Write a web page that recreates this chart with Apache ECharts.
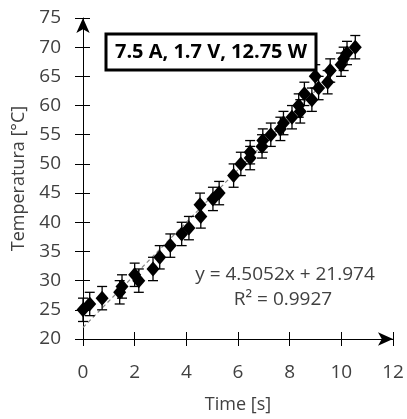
<!DOCTYPE html>
<html>
<head>
<meta charset="utf-8">
<script src="https://cdn.jsdelivr.net/npm/echarts@6/dist/echarts.min.js"></script>
<style>
  html, body { margin: 0; padding: 0; background: #fff; }
  #chart { width: 407px; height: 419px; }
</style>
</head>
<body>
<div id="chart"></div>
<script>
// time [s]
let timeValues = [0, 0.26, 0.74, 1.42, 1.51, 2.0, 2.16, 2.71, 2.97, 3.38, 3.82, 4.1, 4.56, 4.53, 5.03, 5.27, 5.83, 6.11, 6.47, 6.47,
    6.93, 6.96, 7.27, 7.64, 7.76, 8.09, 8.41, 8.35, 8.86, 8.57, 9.12, 9.47, 8.99, 9.57, 9.99, 10.09, 10.22, 10.54];
// temperatura [°C]
let tempValues = [25, 26, 27, 28, 29, 31, 30, 32, 34, 36, 38, 39, 41, 43, 44, 45, 48, 50, 51, 52,
    53, 54, 55, 56, 57, 58, 59, 60, 61, 62, 63, 64, 65, 66, 67, 68, 69, 70];
let errorValue = 2;
// trendline end points
let trendPoints = [[0, 21.97], [10.54, 69.46]];

let fontName = '"Open Sans", sans-serif';
let textColor = '#404040';

let points = timeValues.map(function (t, i) { return [t, tempValues[i]]; });
let errorData = timeValues.map(function (t, i) { return [t, tempValues[i] - errorValue, tempValues[i] + errorValue]; });

let chartDom = document.getElementById('chart');
let myChart = echarts.init(chartDom, null, { renderer: 'canvas' });

let axisLineStyle = { color: '#000', width: 1 };

let option = {
    backgroundColor: '#fff',
    animation: false,
    grid: { left: 83, right: 14, top: 18, bottom: 79, containLabel: false },
    xAxis: [
        {
            type: 'value', min: 0, max: 12, interval: 2,
            splitLine: { show: false },
            axisLine: { show: true, lineStyle: axisLineStyle, symbol: ['none', 'arrow'], symbolSize: [10, 15], onZero: false },
            axisTick: { show: true, length: 7, lineStyle: axisLineStyle },
            axisLabel: { color: textColor, fontSize: 19, fontFamily: fontName, margin: 24 },
            name: 'Time [s]', nameLocation: 'middle', nameGap: 57,
            nameTextStyle: { color: textColor, fontSize: 18, fontFamily: fontName }
        },
        {
            type: 'value', min: 0, max: 12, interval: 2, position: 'bottom',
            splitLine: { show: false },
            axisLine: { show: false, onZero: false },
            axisTick: { show: true, inside: true, length: 7, lineStyle: axisLineStyle },
            axisLabel: { show: false }
        }
    ],
    yAxis: [
        {
            type: 'value', min: 20, max: 75, interval: 5,
            splitLine: { show: false },
            axisLine: { show: true, lineStyle: axisLineStyle, symbol: ['none', 'arrow'], symbolSize: [10, 15], onZero: false },
            axisTick: { show: true, length: 8, lineStyle: axisLineStyle },
            axisLabel: { color: textColor, fontSize: 19, fontFamily: fontName, margin: 22 },
            name: 'Temperatura [°C]', nameLocation: 'middle', nameGap: 55,
            nameTextStyle: { color: textColor, fontSize: 18, fontFamily: fontName }
        },
        {
            type: 'value', min: 20, max: 75, interval: 5, position: 'left',
            splitLine: { show: false },
            axisLine: { show: false, onZero: false },
            axisTick: { show: true, inside: true, length: 7, lineStyle: axisLineStyle },
            axisLabel: { show: false }
        }
    ],
    series: [
        {
            name: 'trend',
            type: 'line',
            data: trendPoints,
            symbol: 'none',
            silent: true,
            lineStyle: { color: '#888', width: 1.2, type: [4, 3] },
            z: 1
        },
        {
            name: 'error',
            type: 'custom',
            silent: true,
            data: errorData,
            renderItem: function (params, api) {
                let x = api.value(0);
                let low = api.coord([x, api.value(1)]);
                let high = api.coord([x, api.value(2)]);
                let cap = 5;
                let style = { stroke: '#000', lineWidth: 1.3 };
                return {
                    type: 'group',
                    children: [
                        { type: 'line', shape: { x1: low[0], y1: low[1], x2: high[0], y2: high[1] }, style: style },
                        { type: 'line', shape: { x1: low[0] - cap, y1: low[1], x2: low[0] + cap, y2: low[1] }, style: style },
                        { type: 'line', shape: { x1: high[0] - cap, y1: high[1], x2: high[0] + cap, y2: high[1] }, style: style }
                    ]
                };
            },
            z: 2
        },
        {
            name: 'data',
            type: 'scatter',
            data: points,
            symbol: 'diamond',
            symbolSize: [13, 15],
            itemStyle: { color: '#000', opacity: 1 },
            z: 3
        }
    ],
    graphic: [
        {
            type: 'rect',
            shape: { x: 106, y: 34, width: 210, height: 36 },
            style: { fill: '#fff', stroke: '#000', lineWidth: 3 },
            z: 10
        },
        {
            type: 'text',
            x: 211, y: 52,
            style: {
                text: '7.5 A, 1.7 V, 12.75 W',
                fontSize: 20, fontWeight: 'bold', fontFamily: fontName,
                fill: '#000', align: 'center', verticalAlign: 'middle'
            },
            z: 11
        },
        {
            type: 'text',
            x: 285, y: 275,
            style: {
                text: 'y = 4.5052x + 21.974',
                fontSize: 19, fontFamily: fontName,
                fill: textColor, align: 'center', verticalAlign: 'middle'
            },
            z: 11
        },
        {
            type: 'text',
            x: 283, y: 300,
            style: {
                text: 'R² = 0.9927',
                fontSize: 19, fontFamily: fontName,
                fill: textColor, align: 'center', verticalAlign: 'middle'
            },
            z: 11
        }
    ]
};

option && myChart.setOption(option);
</script>
</body>
</html>
